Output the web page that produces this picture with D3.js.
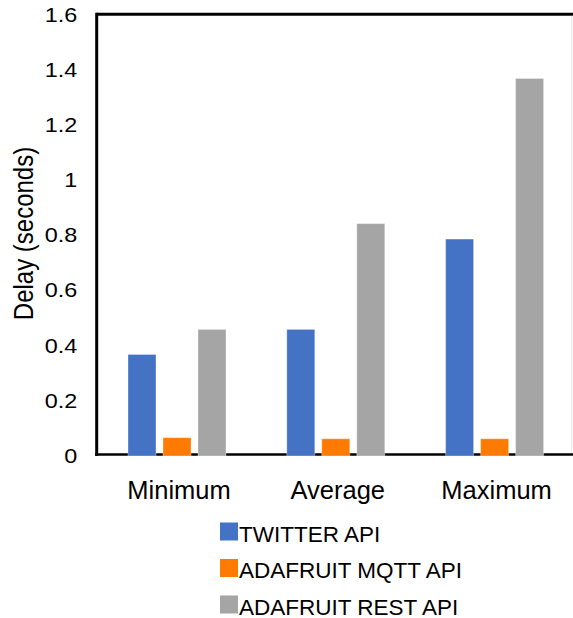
<!DOCTYPE html>
<html>
<head>
<meta charset="utf-8">
<script src="https://cdn.jsdelivr.net/npm/d3@7"></script>
<style>
  html, body { margin: 0; padding: 0; background: #ffffff; }
  svg { display: block; }
  text { font-family: "Liberation Sans", Arial, Helvetica, sans-serif; fill: #000; }
</style>
</head>
<body>
<svg id="chart" width="573" height="618"></svg>
<script>
// ---- data ----
const categories = ["Minimum", "Average", "Maximum"];
const seriesNames = ["TWITTER API", "ADAFRUIT MQTT API", "ADAFRUIT REST API"];
const twitterValues = [0.365, 0.456, 0.784];
const mqttValues = [0.063, 0.059, 0.059];
const restValues = [0.456, 0.840, 1.367];
const yTicks = [0, 0.2, 0.4, 0.6, 0.8, 1, 1.2, 1.4, 1.6];
const yTitle = "Delay (seconds)";
const colors = ["#4472C4", "#FF7A00", "#A5A5A5"];

(function () {
const seriesValues = [twitterValues, mqttValues, restValues];
const rows = categories.map((c, i) => ({
  category: c,
  values: seriesNames.map((s, j) => ({ series: s, value: seriesValues[j][i], color: colors[j] }))
}));

// ---- layout ----
const svg = d3.select("#chart");
const pLeft = 96.7, pTop = 14.3, pBottom = 455;

const y = d3.scaleLinear().domain([0, 1.6]).range([pBottom, pTop]);
const x0 = d3.scaleBand().domain(categories).range([97.6, 574]).paddingInner(0).paddingOuter(0);
const groupW = 98;
const x1 = d3.scaleBand().domain(seriesNames).range([0, groupW]).paddingInner(0.2).paddingOuter(0);

// frame lines
svg.append("line").attr("x1", pLeft).attr("x2", 573).attr("y1", pTop).attr("y2", pTop)
  .attr("stroke", "#000").attr("stroke-width", 3);
svg.append("line").attr("x1", 571.7).attr("x2", 571.7).attr("y1", pTop + 1.5).attr("y2", pBottom)
  .attr("stroke", "#e8e8e8").attr("stroke-width", 1);

// y axis
const yAxis = svg.append("g").attr("transform", `translate(${pLeft},0)`)
  .call(d3.axisLeft(y).tickValues(yTicks).tickSize(0).tickPadding(0)
    .tickFormat(d => String(+d.toFixed(1))));
yAxis.select(".domain").attr("stroke", "#000").attr("stroke-width", 3)
  .attr("d", `M0,${pTop - 1.5}V${pBottom + 1}`);
yAxis.selectAll(".tick text")
  .attr("x", 0).attr("dy", "0.37em")
  .attr("text-anchor", "end")
  .attr("font-size", 19.5)
  .attr("font-family", "Liberation Sans, Arial, sans-serif")
  .attr("fill", "#000")
  .attr("transform", "translate(-19.5,0) scale(1.2,1)");

// x axis baseline
const xAxis = svg.append("g").attr("transform", `translate(0,${pBottom - 0.5})`)
  .call(d3.axisBottom(x0).tickSize(0).tickPadding(0));
xAxis.select(".domain").attr("stroke", "#000").attr("stroke-width", 2.5)
  .attr("d", `M${pLeft - 1.5},0H573`);
xAxis.selectAll(".tick text")
  .attr("y", 0).attr("dy", 0)
  .attr("transform", "translate(2,44.5)")
  .attr("font-size", 25.5)
  .attr("font-family", "Liberation Sans, Arial, sans-serif")
  .attr("fill", "#000");

// bars
const groups = svg.append("g").selectAll("g").data(rows).join("g")
  .attr("transform", d => `translate(${x0(d.category) + (x0.bandwidth() - groupW) / 2},0)`);
groups.selectAll("rect").data(d => d.values).join("rect")
  .attr("x", d => x1(d.series))
  .attr("width", x1.bandwidth())
  .attr("y", d => y(d.value))
  .attr("height", d => y(0) - y(d.value) + 1)
  .attr("fill", d => d.color)
  .attr("stroke", "#ffffff").attr("stroke-opacity", 0.35).attr("stroke-width", 1);

// y title
svg.append("text")
  .attr("transform", "translate(32.5,233.5) scale(1.12,1) rotate(-90)")
  .attr("text-anchor", "middle")
  .attr("font-size", 24)
  .text(yTitle);

// legend
const legend = svg.append("g").selectAll("g").data(seriesNames).join("g")
  .attr("transform", (d, i) => `translate(220,${541.5 + i * 36.5})`);
legend.append("rect")
  .attr("x", 0).attr("y", -19).attr("width", 18).attr("height", 18)
  .attr("fill", (d, i) => colors[i]);
legend.append("text")
  .attr("x", 19).attr("y", 0)
  .attr("font-size", 22.5)
  .text(d => d);
})();
</script>
</body>
</html>
